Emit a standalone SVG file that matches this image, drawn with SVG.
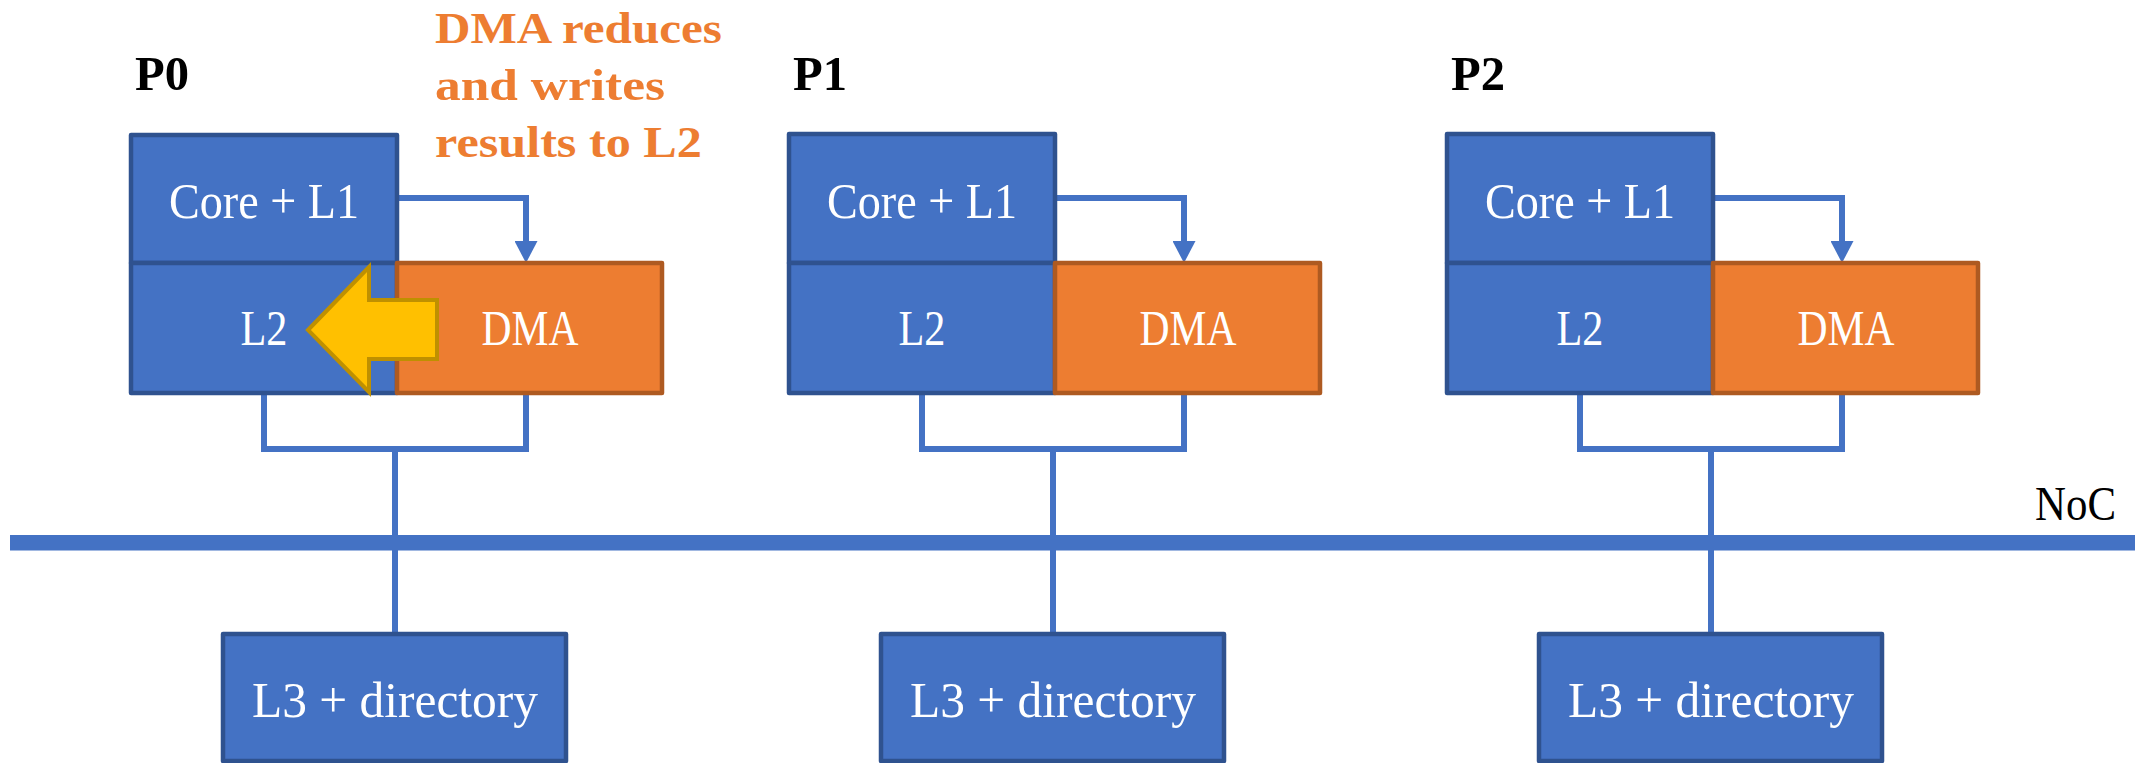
<svg xmlns="http://www.w3.org/2000/svg" width="2146" height="763" viewBox="0 0 2146 763">
  <style>
    .blue{fill:#4472C4;stroke:#2F528F;stroke-width:4.5;stroke-linejoin:round}
    .dma{fill:#ED7D31;stroke:#AE5A21;stroke-width:4.5;stroke-linejoin:round}
    .lbl{font-family:"Liberation Serif","Times New Roman",serif;font-size:50px;fill:#ffffff;text-anchor:middle}
    .title{font-family:"Liberation Serif","Times New Roman",serif;font-size:49px;font-weight:bold;fill:#000000}
    .note{font-family:"Liberation Serif","Times New Roman",serif;font-size:45px;font-weight:bold;fill:#ED7D31}
    .wire{fill:none;stroke:#4472C4;stroke-width:6;stroke-linejoin:miter}
    .bus{fill:#4472C4}
    .push{fill:#FFC000;stroke:#BF9000;stroke-width:4;stroke-linejoin:miter}
  </style>
  <defs>
    <marker id="head" markerUnits="userSpaceOnUse" viewBox="0 -11.5 22 23" refX="0" refY="0" markerWidth="22" markerHeight="23" orient="auto">
      <path d="M0,-11.5 L22,0 L0,11.5 Z" fill="#4472C4"/>
    </marker>
  </defs>

  <rect width="2146" height="763" fill="#ffffff"/>

  <!-- network-on-chip bus -->
  <g id="noc">
    <rect class="bus" x="10" y="535" width="2125" height="15.5"/>
    <text x="2116" y="520" font-family="'Liberation Serif','Times New Roman',serif" font-size="49" text-anchor="end" textLength="81" lengthAdjust="spacingAndGlyphs">NoC</text>
  </g>

  <!-- links: core to DMA, L2/DMA to NoC, NoC to L3 -->
  <g id="connectors">
    <g id="links-p0">
      <path class="wire" d="M397,198 H526 V241" marker-end="url(#head)"/>
      <path class="wire" d="M264,393 V449 H526 V393"/>
      <path class="wire" d="M395,449 V634"/>
    </g>
    <g id="links-p1" transform="translate(658,0)">
      <path class="wire" d="M397,198 H526 V241" marker-end="url(#head)"/>
      <path class="wire" d="M264,393 V449 H526 V393"/>
      <path class="wire" d="M395,449 V634"/>
    </g>
    <g id="links-p2" transform="translate(1316,0)">
      <path class="wire" d="M397,198 H526 V241" marker-end="url(#head)"/>
      <path class="wire" d="M264,393 V449 H526 V393"/>
      <path class="wire" d="M395,449 V634"/>
    </g>
  </g>

  <!-- processor P0 -->
  <g id="p0">
    <g id="p0-label">
      <text class="title" x="135" y="90" textLength="54" lengthAdjust="spacingAndGlyphs">P0</text>
    </g>
    <g id="p0-core">
      <rect class="blue" x="131" y="135" width="266" height="128"/>
      <text class="lbl" x="264" y="218" textLength="190" lengthAdjust="spacingAndGlyphs">Core + L1</text>
    </g>
    <g id="p0-l2">
      <rect class="blue" x="131" y="263" width="266" height="130"/>
      <text class="lbl" x="264" y="345" textLength="47" lengthAdjust="spacingAndGlyphs">L2</text>
    </g>
    <g id="p0-dma">
      <rect class="dma" x="397" y="263" width="265" height="130"/>
      <text class="lbl" x="530" y="345" textLength="97" lengthAdjust="spacingAndGlyphs">DMA</text>
    </g>
    <g id="p0-writeback">
      <polygon class="push" points="308,330 369,267 369,300 437,300 437,359 369,359 369,392"/>
    </g>
    <g id="p0-note">
      <text class="note" x="435" y="43" textLength="287" lengthAdjust="spacingAndGlyphs">DMA reduces</text>
      <text class="note" x="435" y="100" textLength="230" lengthAdjust="spacingAndGlyphs">and writes</text>
      <text class="note" x="435" y="157" textLength="267" lengthAdjust="spacingAndGlyphs">results to L2</text>
    </g>
    <g id="p0-l3">
      <rect class="blue" x="223" y="634" width="343" height="127"/>
      <text class="lbl" x="395" y="717" textLength="286" lengthAdjust="spacingAndGlyphs">L3 + directory</text>
    </g>
  </g>

  <!-- processor P1 -->
  <g id="p1" transform="translate(658,0)">
    <g id="p1-label">
      <text class="title" x="135" y="90" textLength="54" lengthAdjust="spacingAndGlyphs">P1</text>
    </g>
    <g id="p1-core">
      <rect class="blue" x="131" y="134" width="266" height="129"/>
      <text class="lbl" x="264" y="218" textLength="190" lengthAdjust="spacingAndGlyphs">Core + L1</text>
    </g>
    <g id="p1-l2">
      <rect class="blue" x="131" y="263" width="266" height="130"/>
      <text class="lbl" x="264" y="345" textLength="47" lengthAdjust="spacingAndGlyphs">L2</text>
    </g>
    <g id="p1-dma">
      <rect class="dma" x="397" y="263" width="265" height="130"/>
      <text class="lbl" x="530" y="345" textLength="97" lengthAdjust="spacingAndGlyphs">DMA</text>
    </g>
    <g id="p1-l3">
      <rect class="blue" x="223" y="634" width="343" height="127"/>
      <text class="lbl" x="395" y="717" textLength="286" lengthAdjust="spacingAndGlyphs">L3 + directory</text>
    </g>
  </g>

  <!-- processor P2 -->
  <g id="p2" transform="translate(1316,0)">
    <g id="p2-label">
      <text class="title" x="135" y="90" textLength="54" lengthAdjust="spacingAndGlyphs">P2</text>
    </g>
    <g id="p2-core">
      <rect class="blue" x="131" y="134" width="266" height="129"/>
      <text class="lbl" x="264" y="218" textLength="190" lengthAdjust="spacingAndGlyphs">Core + L1</text>
    </g>
    <g id="p2-l2">
      <rect class="blue" x="131" y="263" width="266" height="130"/>
      <text class="lbl" x="264" y="345" textLength="47" lengthAdjust="spacingAndGlyphs">L2</text>
    </g>
    <g id="p2-dma">
      <rect class="dma" x="397" y="263" width="265" height="130"/>
      <text class="lbl" x="530" y="345" textLength="97" lengthAdjust="spacingAndGlyphs">DMA</text>
    </g>
    <g id="p2-l3">
      <rect class="blue" x="223" y="634" width="343" height="127"/>
      <text class="lbl" x="395" y="717" textLength="286" lengthAdjust="spacingAndGlyphs">L3 + directory</text>
    </g>
  </g>
</svg>
